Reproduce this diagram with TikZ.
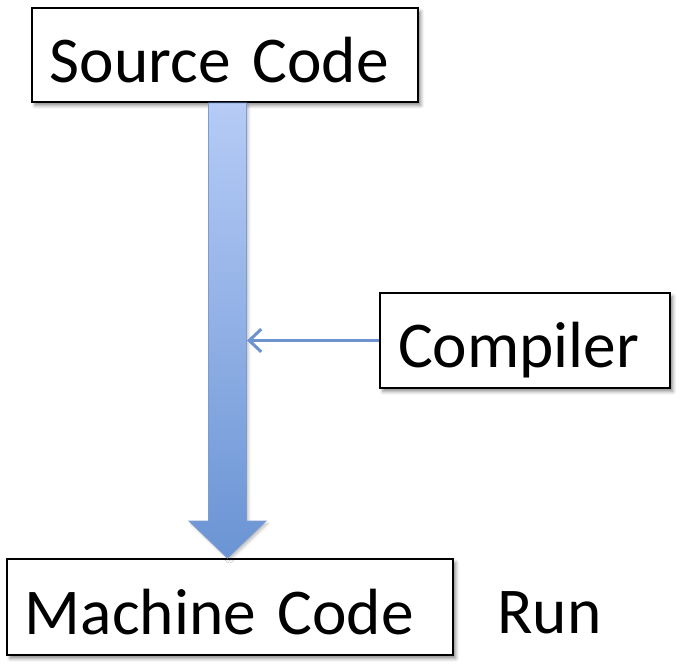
\documentclass[tikz,border=0pt]{standalone}
\usepackage{fontspec}
\setmainfont{Carlito}
\usetikzlibrary{calc,arrows.meta,shadows.blur}

\definecolor{shaftTopC}{HTML}{B6CBF6}
\definecolor{shaftBotC}{HTML}{6A94D4}
\definecolor{shaftEdge}{HTML}{7C9CD2}
\definecolor{feedC}{HTML}{6F93CF}

\tikzset{
  codebox/.style={draw=black, line width=1.5pt, fill=white,
    inner xsep=13.5pt, align=left, text height=41pt, text depth=0pt,
    font=\fontsize{49}{58}\selectfont,
    blur shadow={shadow xshift=2.2pt, shadow yshift=-2.6pt,
      shadow blur radius=2.5pt, shadow opacity=45}},
  plainlabel/.style={inner sep=0pt, font=\fontsize{49}{58}\selectfont},
  bigflow/.style={shading=axis, top color=shaftTopC, bottom color=shaftBotC,
    draw=shaftEdge, line width=0.7pt,
    blur shadow={shadow xshift=1.5pt, shadow yshift=-1.8pt,
      shadow blur radius=2pt, shadow opacity=25}},
  feedline/.style={draw=feedC, line width=2.3pt,
    -{Straight Barb[length=9pt, width=17pt, line width=2.3pt]}}
}

\begin{document}
\begin{tikzpicture}[x=0.75pt, y=-0.75pt]
  \useasboundingbox (0,0) rectangle (686,671);

  % boxes
  \node[codebox, text width=262.5pt, minimum height=70.5pt] (src) at (225,55) {Source Code};
  \node[codebox, text width=307.5pt, minimum height=72pt] (mc) at (230,607) {Machine Code};

  % wide block arrow from source to machine code
  \path let \p1 = ($(src.south)!0.5!(mc.north)$), \p2 = (src.south), \p3 = (mc.north) in
    [bigflow] (\x1-14.25pt,\y2) -- (\x1+14.25pt,\y2) -- (\x1+14.25pt,\y3+27.75pt)
    -- (\x1+28.9pt,\y3+27.75pt) -- (\x1,\y3) -- (\x1-28.9pt,\y3+27.75pt)
    -- (\x1-14.25pt,\y3+27.75pt) -- cycle;

  \node[codebox, text width=190.5pt, minimum height=71.25pt] (comp) at (525,340.5) {Compiler};

  % the compiler feeds into the translation step
  \coordinate (shaftR) at ($(src.south)!0.5!(mc.north)$);
  \coordinate (feedEnd) at ($(shaftR |- comp.west) + (14.6pt,0)$);
  \draw[feedline] (comp.west) -- (feedEnd);

  \node[plainlabel, anchor=base west] (run) at (497,633) {Run};
\end{tikzpicture}
\end{document}
